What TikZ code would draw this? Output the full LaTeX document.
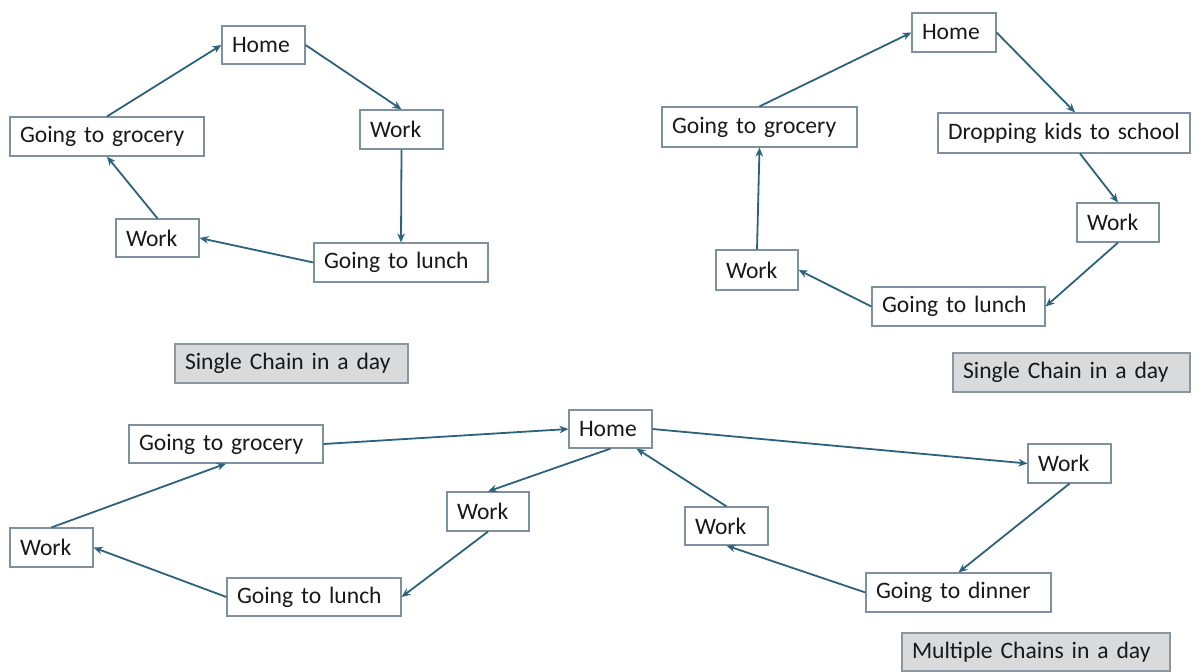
\documentclass[tikz,border=0pt]{standalone}
\usepackage{fontspec}
\setmainfont{Carlito}
\usetikzlibrary{arrows.meta}
\definecolor{arrowc}{RGB}{44,98,124}
\definecolor{boxc}{RGB}{125,145,160}
\definecolor{labfill}{RGB}{216,218,220}
\definecolor{labdraw}{RGB}{140,150,160}
\definecolor{txt}{RGB}{25,25,25}
\tikzset{
  bx/.style 2 args={draw=boxc, line width=0.6pt, fill=white, text=txt,
    text width=#1, minimum height=#2, inner xsep=5pt, inner ysep=0pt,
    align=left, font=\fontsize{11.8}{14}\selectfont},
  lab/.style 2 args={bx={#1}{#2}, fill=labfill, draw=labdraw},
  arr/.style={draw=arrowc, line width=0.9pt, -{Stealth[length=4.5pt,width=3.8pt]}}
}
\begin{document}
\begin{tikzpicture}[x=0.5pt,y=-0.5pt]
\useasboundingbox (0,0) rectangle (1202,671);
% top-left panel
\node[bx={31.5pt}{19pt}]   (hA)  at (263.5,45)   {Home};
\node[bx={31.5pt}{19.5pt}] (wA1) at (401.5,129.5) {Work};
\node[bx={87pt}{19.5pt}]   (gA)  at (107,136.5)  {Going to grocery};
\node[bx={31.5pt}{19pt}]   (wA2) at (157.5,238)  {Work};
\node[bx={77pt}{19.5pt}]   (lA)  at (401,262.5)  {Going to lunch};
\node[lab={106.5pt}{19.5pt}] (labA) at (291.5,363.5) {Single Chain in a day};
\draw[arr] (gA.north) -- (hA.west);
\draw[arr] (hA.east) -- (wA1.north);
\draw[arr] (wA1.south) -- (lA.north);
\draw[arr] (lA.west) -- (wA2.east);
\draw[arr] (wA2.north) -- (gA.south);
% top-right panel
\node[bx={32pt}{19.5pt}]   (hB)  at (954,32.5)   {Home};
\node[bx={116pt}{20pt}]    (dB)  at (1064,133)   {Dropping kids to school};
\node[bx={31pt}{19.5pt}]   (wB1) at (1118,222.5) {Work};
\node[bx={76.5pt}{19.5pt}] (lB)  at (958.5,306.5) {Going to lunch};
\node[bx={31pt}{20pt}]     (wB2) at (757,270)    {Work};
\node[bx={87.5pt}{20pt}]   (gB)  at (759.5,127)  {Going to grocery};
\node[lab={108.5pt}{19.5pt}] (labB) at (1071.5,372.5) {Single Chain in a day};
\draw[arr] (gB.north) -- (hB.west);
\draw[arr] (hB.east) -- ([xshift=5.5pt]dB.north);
\draw[arr] ([xshift=8pt]dB.south) -- (wB1.north);
\draw[arr] (wB1.south) -- (lB.east);
\draw[arr] (lB.west) -- (wB2.east);
\draw[arr] (wB2.north) -- (gB.south);
% bottom panel
\node[bx={31.5pt}{19pt}]   (hC)  at (610.5,429)  {Home};
\node[bx={87pt}{19pt}]     (gC)  at (226,444)    {Going to grocery};
\node[bx={31.5pt}{19.5pt}] (wC1) at (51.5,547.5) {Work};
\node[bx={77pt}{19pt}]     (lC)  at (314,597)    {Going to lunch};
\node[bx={31pt}{19.5pt}]   (wC2) at (488,511.5)  {Work};
\node[bx={31.5pt}{19.5pt}] (wC3) at (1069.5,463.5) {Work};
\node[bx={82.5pt}{19.5pt}] (dC)  at (958.5,592.5) {Going to dinner};
\node[bx={31.5pt}{19pt}]   (wC4) at (726.5,526)  {Work};
\node[lab={124pt}{19pt}]   (labC) at (1036,652)  {Multiple Chains in a day};
\draw[arr] (gC.east) -- (hC.west);
\draw[arr] (hC.east) -- (wC3.west);
\draw[arr] (wC3.south) -- (dC.north);
\draw[arr] (dC.west) -- (wC4.south);
\draw[arr] (wC4.north) -- ([xshift=13pt]hC.south);
\draw[arr] (hC.south) -- (wC2.north);
\draw[arr] (wC2.south) -- (lC.east);
\draw[arr] (lC.west) -- (wC1.east);
\draw[arr] (wC1.north) -- (gC.south);
\end{tikzpicture}
\end{document}
